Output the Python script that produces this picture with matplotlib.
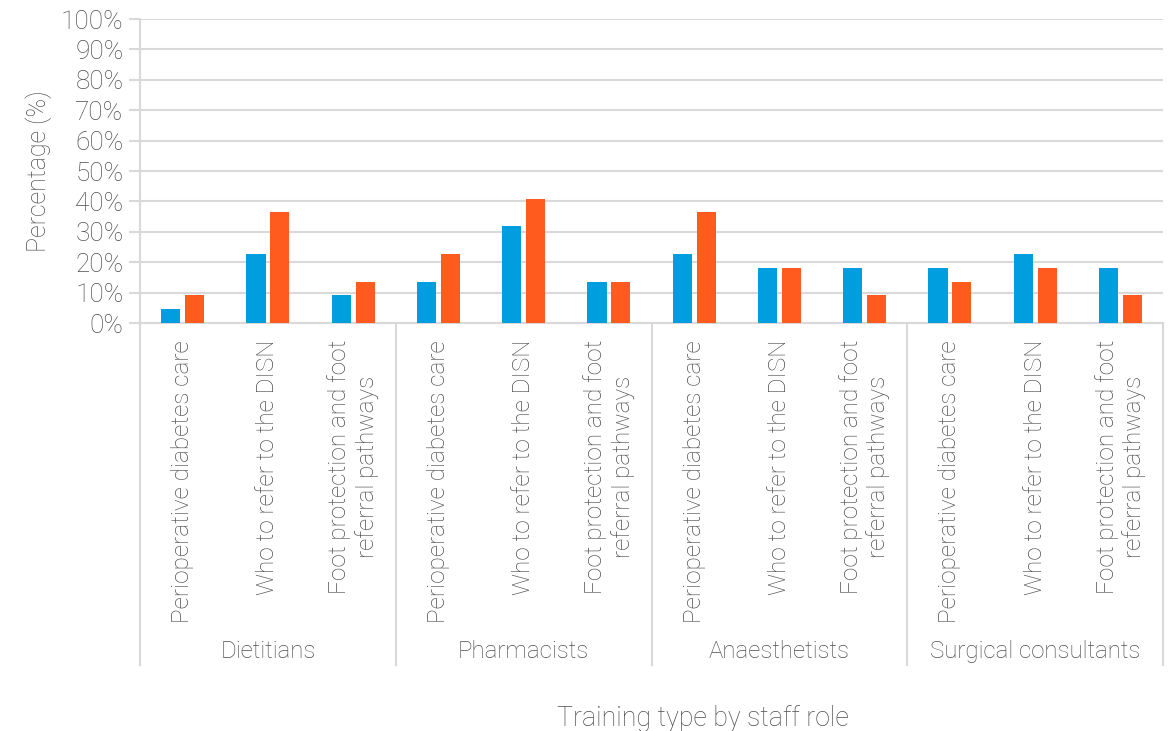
import numpy as np
import matplotlib
matplotlib.use("Agg")
import matplotlib.pyplot as plt
from matplotlib.ticker import PercentFormatter

plt.rcParams['font.family'] = ['Roboto', 'DejaVu Sans']
plt.rcParams['font.weight'] = 'light'
plt.rcParams['axes.labelweight'] = 'light'

# training types within each staff role
roles = ['Dietitians', 'Pharmacists', 'Anaesthetists', 'Surgical consultants']
training = ['Perioperative diabetes care', 'Who to refer to the DISN',
            'Foot protection and foot\nreferral pathways']

# percentages per role, in training order
blue_vals = [4.5, 22.7, 9.1,
             13.6, 31.8, 13.6,
             22.7, 18.2, 18.2,
             18.2, 22.7, 18.2]
orange_vals = [9.1, 36.4, 13.6,
               22.7, 40.9, 13.6,
               36.4, 18.2, 9.1,
               13.6, 18.2, 9.1]

BLUE = '#009EDF'
ORANGE = '#FF5B1F'
TXT = '#4F4F4F'
LINE = '#D9D9D9'

fig = plt.figure(figsize=(11.69, 7.31), dpi=100)
ax = fig.add_axes([0.1198, 0.558, 0.8751, 0.416])

n = len(blue_vals)
x = np.arange(n)
w = 0.225
off = 0.14
ax.bar(x - off, blue_vals, width=w, color=BLUE, zorder=3)
ax.bar(x + off, orange_vals, width=w, color=ORANGE, zorder=3)

ax.set_xlim(-0.5, n - 0.5)
ax.set_ylim(0, 100)
ax.set_yticks(np.arange(0, 101, 10))
ax.yaxis.set_major_formatter(PercentFormatter(decimals=0))
ax.tick_params(axis='y', labelsize=18.8, labelcolor=TXT, color=LINE,
               length=8, width=1.5, pad=4)
ax.tick_params(axis='x', bottom=False, labelbottom=False)
ax.grid(axis='y', color=LINE, linewidth=1.5, zorder=0)
for s in ['top', 'right']:
    ax.spines[s].set_visible(False)
for s in ['left', 'bottom']:
    ax.spines[s].set_color(LINE)
    ax.spines[s].set_linewidth(1.5)

ax.set_ylabel('Percentage (%)', fontsize=18, color=TXT, labelpad=6,
              fontweight='light')

# category labels (rotated) under each slot
trans = ax.get_xaxis_transform()
for i in range(n):
    ax.text(i, -0.055, training[i % 3], rotation=90, ha='center', va='top',
            multialignment='center', fontsize=17.5, color=TXT,
            transform=trans, linespacing=1.2)

# group separators and role names
bottom_y = -1.125
for g in range(len(roles) + 1):
    xs = g * 3 - 0.5
    ax.plot([xs, xs], [0, bottom_y], color=LINE, linewidth=1.5,
            transform=trans, clip_on=False)
for g, role in enumerate(roles):
    ax.text(g * 3 + 1, -1.08, role, ha='center', va='center',
            fontsize=17.3, color=TXT, transform=trans)

ax.text(0.55, -1.30, 'Training type by staff role', ha='center', va='center',
        fontsize=19.3, color=TXT, transform=ax.transAxes)

fig.savefig('out.png', dpi=100, facecolor='white')
